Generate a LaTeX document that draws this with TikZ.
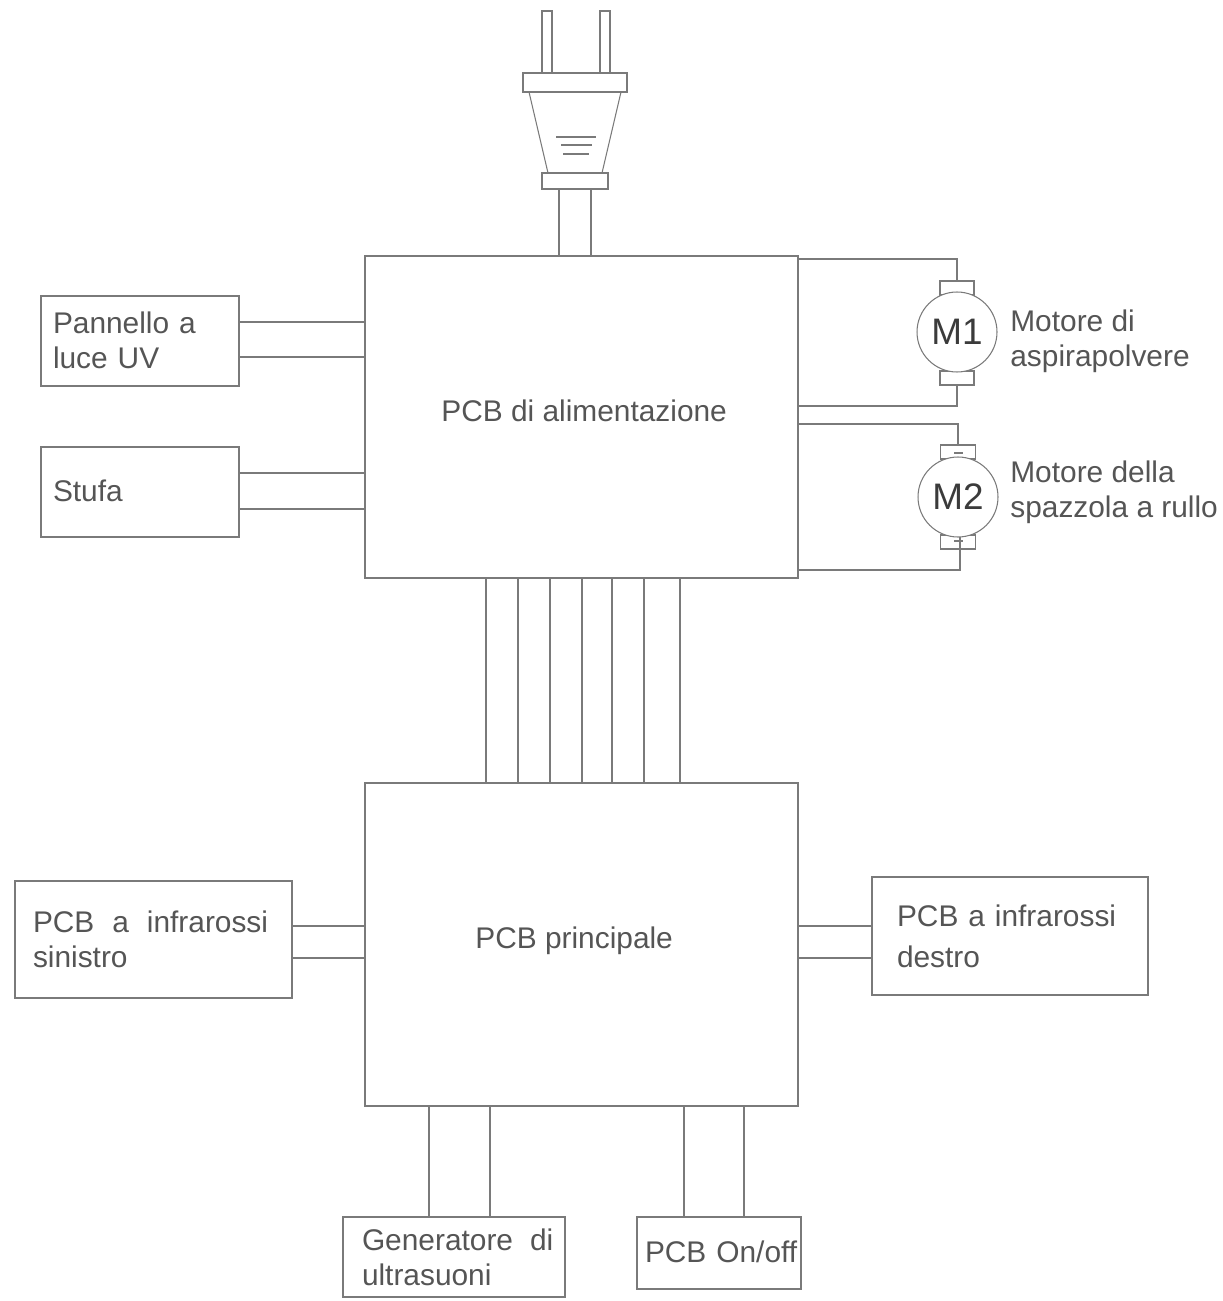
\documentclass[tikz,border=0pt]{standalone}
\usepackage{fontspec}
\setmainfont{Liberation Sans}
\usetikzlibrary{calc}
\definecolor{wirecolor}{HTML}{7A7A7A}
\definecolor{labelcolor}{HTML}{555555}
\tikzset{
    wire/.style={color=wirecolor,line width=0.6pt},
    box/.style n args={3}{draw=wirecolor,line width=0.6pt,rectangle,anchor=north west,outer sep=0pt,
        inner sep=0pt,minimum width=#1*0.02cm,minimum height=#2*0.02cm,inner xsep=#3*0.02cm,
        text width=(#1-2*#3)*0.02cm,align=left,text=labelcolor},
    plate/.style n args={2}{draw=wirecolor,line width=0.6pt,rectangle,fill=white,outer sep=0pt,inner sep=0pt,
        minimum width=#1*0.02cm,minimum height=#2*0.02cm},
    motor/.style={draw=wirecolor,line width=0.6pt,circle,fill=white,outer sep=0pt,inner sep=0pt,
        minimum size=1.6cm,text=labelcolor!70!black,font=\fontsize{21}{24}\selectfont},
    caption/.style={anchor=west,inner sep=0pt,align=left,text=labelcolor},
}
\tikzstyle{every node}=[font=\fontsize{17}{19.9}\selectfont]

\begin{document}
\begin{tikzpicture}[x=0.02cm,y=-0.02cm]
        \useasboundingbox (0,0) rectangle (1223,1301);

        % boards
        \node[box={433}{322}{0}] (pwr) at (365,256) {};
        \node[box={433}{323}{0}] (main) at (365,783) {};
        \node[caption] (pwrlabel) at (441,411) {PCB di alimentazione};
        \node[caption] (mainlabel) at (475,941) {PCB principale};

        % loads
        \node[box={198}{90}{12}] (uv) at (41,296) {\raisebox{0.02cm}{Pannello a}\\\raisebox{0.02cm}{luce UV}};
        \node[box={198}{90}{12}] (stufa) at (41,447) {\raisebox{0.04cm}{Stufa}};
        \node[box={277}{117}{18}] (irleft) at (15,881) {\mbox{PCB\hspace{0.16cm} a\hspace{0.16cm} infrarossi}\\sinistro};
        \node[box={276}{118}{25}] (irright) at (872,877) {PCB a infrarossi\\[0.12cm]destro};
        \node[box={222}{80}{19}] (gen) at (343,1217) {\mbox{Generatore\hspace{0.14cm} di}\\ultrasuoni};
        \node[box={164}{72}{8}] (onoff) at (637,1217) {\raisebox{0.04cm}{PCB On/off}};

        \foreach \yy in {322,357}
            \draw[wire] (uv.east |- 0,\yy) -- (pwr.west |- 0,\yy);
        \foreach \yy in {473,509}
            \draw[wire] (stufa.east |- 0,\yy) -- (pwr.west |- 0,\yy);
        \foreach \yy in {926,958} {
            \draw[wire] (irleft.east |- 0,\yy) -- (main.west |- 0,\yy);
            \draw[wire] (main.east |- 0,\yy) -- (irright.west |- 0,\yy);
        }
        \foreach \xx in {429,490}
            \draw[wire] (main.south -| \xx,0) -- (gen.north -| \xx,0);
        \foreach \xx in {684,744}
            \draw[wire] (main.south -| \xx,0) -- (onoff.north -| \xx,0);
        % bus between the boards
        \foreach \xx in {486,518,550,582,612,644,680}
            \draw[wire] (pwr.south -| \xx,0) -- (main.north -| \xx,0);

        % plug
        \node[plate={10}{62}] (prongl) at (547,42) {};
        \node[plate={10}{62}] (prongr) at (605,42) {};
        \node[plate={104}{19}] (flange) at (575,82.5) {};
        \node[plate={66}{16}] (collar) at (575,181) {};
        \draw[wire] (flange.south -| 529,0) -- (collar.north -| 548,0);
        \draw[wire] (flange.south -| 621,0) -- (collar.north -| 602,0);
        \draw[wire] (556,137) -- (596,137);
        \draw[wire] (561,145) -- (592,145);
        \draw[wire] (563,154) -- (589,154);
        \foreach \xx in {559,591}
            \draw[wire] (collar.south -| \xx,0) -- (pwr.north -| \xx,0);

        % motor 1
        \node[plate={34}{14}] (brushatop) at (957,288) {};
        \node[plate={34}{14}] (brushabot) at (957,378) {};
        \node[motor] (mone) at (957,332) {M1};
        \draw[wire] (pwr.east |- 0,259) -| (brushatop.north);
        \draw[wire] (brushabot.south) |- (pwr.east |- 0,406);
        \node[caption] (monelabel) at (1010,341) {Motore di\\aspirapolvere};

        % motor 2
        \node[plate={35}{14}] (brushbtop) at (958,452) {};
        \node[plate={35}{14}] (brushbbot) at (958,542) {};
        \node[motor] (mtwo) at (958,497) {M2};
        \draw[wire] (pwr.east |- 0,424) -| (brushbtop.north);
        \draw[wire] (brushbbot.south -| 960,0) |- (pwr.east |- 0,570);
        \draw[wire] (954,453) -- (963,453);
        \draw[wire] (954,541) -- (963,541);
        \draw[wire] (960,537) -- (brushbbot.south -| 960,0);
        \node[caption] (mtwolabel) at (1010,492) {Motore della\\spazzola a rullo};
    \end{tikzpicture}
\end{document}
